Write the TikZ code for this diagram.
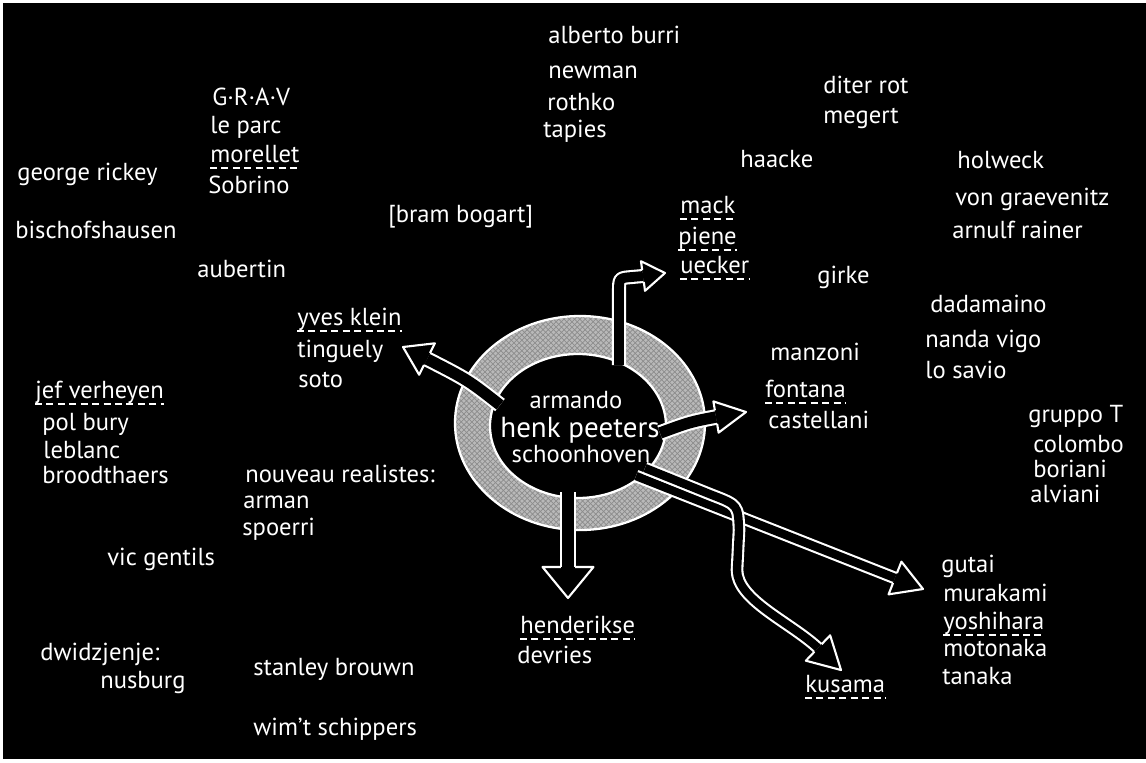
\documentclass[tikz,border=0pt]{standalone}
\usepackage{fontspec}
\setmainfont{PT Sans}
\usetikzlibrary{calc,patterns}

\newcommand{\handfont}{\fontsize{14}{17}\selectfont}
% head of a fat arrow: base, tip, half head width, half shaft width
\newcommand{\headtip}[4]{%
  \fill[black] ($(#1)!#3!90:(#2)$) -- (#2) -- ($(#1)!#3!-90:(#2)$) -- cycle;
  \draw[white,line width=1.2pt,line join=round]
    ($(#1)!#4!90:(#2)$) -- ($(#1)!#3!90:(#2)$) -- (#2)
    -- ($(#1)!#3!-90:(#2)$) -- ($(#1)!#4!-90:(#2)$);
}

\tikzset{
  artist/.style={text=white,font=\handfont,inner sep=0pt,anchor=base west},
  core/.style={text=white,font=\handfont,inner sep=0pt,anchor=base},
  uline/.style={white,line width=0.8pt,dash pattern=on 4pt off 2.5pt},
  shaft/.style={draw=white,line width=1.2pt,double=black,double distance=#1,line join=round},
  shaft/.default=6pt
}

\begin{document}
\begin{tikzpicture}[x=0.02cm,y=-0.02cm]
\useasboundingbox (0,0) rectangle (1146,762);
\fill[white] (0,0) rectangle (1146,762);
\fill[black] (3,3) rectangle (1146,759);

% the ring
\fill[gray!55,even odd rule] (580,423) ellipse [x radius=125,y radius=107]
  (578,426) ellipse [x radius=88,y radius=72];
\fill[pattern=crosshatch,pattern color=black!45,even odd rule] (580,423) ellipse [x radius=125,y radius=107]
  (578,426) ellipse [x radius=88,y radius=72];
\draw[white,line width=1.3pt] (580,423) ellipse [x radius=125,y radius=107];
\draw[white,line width=1.3pt] (578,426) ellipse [x radius=88,y radius=72];

% arrows out of the ring
\coordinate (up0) at (619,365);
\coordinate (upB) at (643,276);
\coordinate (upT) at (665,273);
\draw[shaft=5.6pt] (up0) -- (619,292) .. controls (619,278) .. (632,277) -- (upB);
\headtip{upB}{upT}{8.5pt}{3.4pt}

\coordinate (lf0) at (500,405);
\coordinate (lfB) at (427,359);
\coordinate (lfT) at (403,347);
\draw[shaft=6.5pt] (lf0) .. controls (468,380) .. (lfB);
\headtip{lfB}{lfT}{10pt}{3.85pt}

\coordinate (rt0) at (660,433);
\coordinate (rtB) at (716,417);
\coordinate (rtT) at (746,412);
\draw[shaft=6.5pt] (rt0) .. controls (690,422) .. (rtB);
\headtip{rtB}{rtT}{9pt}{3.85pt}

\coordinate (dn0) at (568,492);
\coordinate (dnB) at (568,567);
\coordinate (dnT) at (568,598);
\draw[shaft=7pt] (dn0) -- (dnB);
\headtip{dnB}{dnT}{14.5pt}{4.1pt}

\coordinate (gu0) at (636,476);
\coordinate (guB) at (895,578);
\coordinate (guT) at (923,589);
\draw[shaft=4.8pt] (gu0) -- (guB);
\headtip{guB}{guT}{10pt}{3pt}

\coordinate (ku0) at (645,468);
\coordinate (kuB) at (818,648);
\coordinate (kuT) at (841,670);
\draw[shaft=4.8pt] (ku0) -- (712,495) .. controls (738,505) .. (739,530) -- (737,570)
  .. controls (737,600) and (790,622) .. (kuB);
\headtip{kuB}{kuT}{10pt}{3pt}

% centre
\node[core] (armando) at (576,408) {armando};
\node[core,font=\fontsize{16.5}{19}\selectfont] (peeters) at (580,437) {henk peeters};
\node[core] (schoonhoven) at (581,462) {schoonhoven};

% names round about
\node[artist] (rickey) at (17,180) {george rickey};
\node[artist] (bischofshausen) at (15,238) {bischofshausen};
\node[artist] (grav) at (212,105) {G·R·A·V};
\node[artist] (leparc) at (210,133) {le parc};
\node[artist] (morellet) at (210,162) {morellet};
\node[artist] (sobrino) at (208,193) {Sobrino};
\node[artist] (aubertin) at (197,277) {aubertin};
\node[artist] (bogart) at (388,222) {[bram bogart]};

\node[artist] (burri) at (548,43) {alberto burri};
\node[artist] (newman) at (548,78) {newman};
\node[artist] (rothko) at (547,110) {rothko};
\node[artist] (tapies) at (543,137) {tapies};

\node[artist] (haacke) at (740,167) {haacke};
\node[artist] (rot) at (823,93) {diter rot};
\node[artist] (megert) at (823,123) {megert};
\node[artist] (mack) at (680,213) {mack};
\node[artist] (piene) at (678,244) {piene};
\node[artist] (uecker) at (680,273) {uecker};
\node[artist] (girke) at (817,283) {girke};

\node[artist] (holweck) at (957,168) {holweck};
\node[artist] (graevenitz) at (955,205) {von graevenitz};
\node[artist] (rainer) at (952,238) {arnulf rainer};
\node[artist] (dadamaino) at (930,312) {dadamaino};
\node[artist] (vigo) at (925,347) {nanda vigo};
\node[artist] (losavio) at (925,378) {lo savio};

\node[artist] (manzoni) at (770,360) {manzoni};
\node[artist] (fontana) at (765,397) {fontana};
\node[artist] (castellani) at (768,428) {castellani};

\node[artist] (gruppoT) at (1028,422) {gruppo T};
\node[artist] (colombo) at (1033,452) {colombo};
\node[artist] (boriani) at (1033,477) {boriani};
\node[artist] (alviani) at (1030,502) {alviani};

\node[artist] (klein) at (297,325) {yves klein};
\node[artist] (tinguely) at (297,357) {tinguely};
\node[artist] (soto) at (298,387) {soto};

\node[artist] (verheyen) at (35,398) {jef verheyen};
\node[artist] (bury) at (42,430) {pol bury};
\node[artist] (leblanc) at (43,458) {leblanc};
\node[artist] (broodthaers) at (42,483) {broodthaers};

\node[artist] (nouveau) at (245,482) {nouveau realistes:};
\node[artist] (arman) at (243,508) {arman};
\node[artist] (spoerri) at (242,535) {spoerri};
\node[artist] (gentils) at (107,565) {vic gentils};

\node[artist] (dvizjenje) at (40,660) {dwidzjenje:};
\node[artist] (nusberg) at (100,688) {nusburg};
\node[artist] (brouwn) at (253,675) {stanley brouwn};
\node[artist] (schippers) at (253,735) {wim't schippers};

\node[artist] (henderikse) at (520,633) {henderikse};
\node[artist] (devries) at (517,663) {devries};
\node[artist] (kusama) at (805,692) {kusama};

\node[artist] (gutai) at (941,572) {gutai};
\node[artist] (murakami) at (943,601) {murakami};
\node[artist] (yoshihara) at (943,629) {yoshihara};
\node[artist] (motonaka) at (943,656) {motonaka};
\node[artist] (tanaka) at (942,684) {tanaka};

% dashed underlines
\foreach \n in {morellet,mack,piene,uecker,fontana,klein,verheyen,henderikse,kusama,yoshihara}
  \draw[uline] ([yshift=-3.4pt]\n.base west) -- ([yshift=-3.4pt]\n.base east);

\end{tikzpicture}
\end{document}
